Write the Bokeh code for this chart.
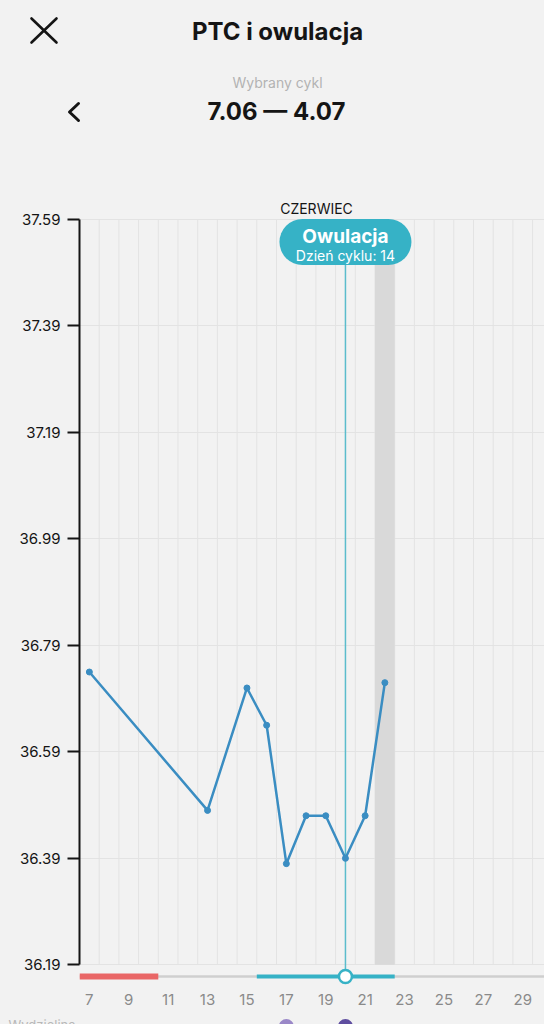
from bokeh.plotting import figure
from bokeh.layouts import column
from bokeh.models import Range1d, FixedTicker, Label, NumeralTickFormatter, GlobalInlineStyleSheet
from bokeh.embed import file_html
from bokeh.resources import INLINE

# ---------------- data ----------------
CYCLE_START = 7
DAYS = [7, 13, 15, 16, 17, 18, 19, 20, 21, 22]
TEMPS = [36.74, 36.48, 36.71, 36.64, 36.38, 36.47, 36.47, 36.39, 36.47, 36.72]
Y_TICKS = [36.19, 36.39, 36.59, 36.79, 36.99, 37.19, 37.39, 37.59]
X_TICKS = [7, 9, 11, 13, 15, 17, 19, 21, 23, 25, 27, 29]
PERIOD_DAYS = [7, 8, 9, 10]
FERTILE_DAYS = [16, 17, 18, 19, 20, 21, 22]
OVULATION_DAY = 20
TODAY = 22
LAST_DAY = 29
MUCUS_DAYS = [17, 20]
MUCUS_COLORS = ["#9a88c8", "#5f4ea0"]
MONTH = "CZERWIEC"
TITLE = "PTC i owulacja"
SUBTITLE = "Wybrany cykl"
RANGE_LABEL = "7.06 — 4.07"
OV_TITLE = "Owulacja"
OV_SUB = "Dzień cyklu: "
FOOTER_LABEL = "Wydzielina"

# ---------------- layout (page px) ----------------
W = 544
HEADER_H = 198
FOOTER_H = 16
CHART_H = 1024 - HEADER_H - FOOTER_H
FRAME_L = 79
FRAME_BOTTOM_PAGE = 985
CHART_BORDER_B = HEADER_H + CHART_H - FRAME_BOTTOM_PAGE
FRAME_W = W - FRAME_L
FRAME_H = CHART_H - CHART_BORDER_B
PX_PER_DAY = 19.7
PX_PER_DEG = 745.3 / 1.4
Y_TOP = max(Y_TICKS)
Y_AXIS_MIN = min(Y_TICKS)
Y_TOP_PAGE = 219
X_START = CYCLE_START - 0.5
X_END = X_START + FRAME_W / PX_PER_DAY
Y_END = Y_TOP + (Y_TOP_PAGE - HEADER_H) / PX_PER_DEG
Y_START = Y_END - FRAME_H / PX_PER_DEG
TRACK_Y = Y_START + 9 / PX_PER_DEG

FONT = "Inter"
BG = "#f2f2f2"
TEAL = "#36b2c6"
LINE_BLUE = "#3a8dc2"
GRID = "#e3e3e3"
DARK = "#151515"


def chart_y(py):
    """page y -> frame-relative screen y of the chart figure"""
    return FRAME_BOTTOM_PAGE - py


def lbl(fig, x, y, text, size, color=DARK, bold=False, font=FONT, align="center",
        baseline="middle", x_units="screen"):
    fig.add_layout(Label(x=x, y=y, x_units=x_units, y_units="screen", text=text,
                         text_align=align, text_baseline=baseline, text_font=font,
                         text_font_size=size, text_color=color,
                         text_font_style="bold" if bold else "normal"))


# ---------------- header ----------------
head = figure(width=W, height=HEADER_H, output_backend="svg", toolbar_location=None,
              x_range=Range1d(0, W), y_range=Range1d(HEADER_H, 0),
              min_border=0, background_fill_color=BG, border_fill_color=BG,
              outline_line_color=None, frame_align=False)
head.axis.visible = False
head.grid.visible = False

# close icon (X) and back chevron, drawn as strokes
head.segment(x0=[31, 56], y0=[18, 18], x1=[56, 31], y1=[42, 42],
             line_color=DARK, line_width=2.6, line_cap="round")
head.line(x=[78, 69, 78], y=[103, 111.5, 120], line_color=DARK, line_width=3,
          line_cap="round", line_join="round")

lbl(head, 277, HEADER_H - 31, TITLE, "24px", bold=True)
lbl(head, 277, HEADER_H - 82, SUBTITLE, "14px", color="#b3b3b3")
lbl(head, 276, HEADER_H - 111, RANGE_LABEL, "24px", bold=True)

# ---------------- chart ----------------
p = figure(width=W, height=CHART_H, output_backend="svg", toolbar_location=None,
           x_range=Range1d(X_START, X_END), y_range=Range1d(Y_START, Y_END),
           min_border_left=FRAME_L, min_border_right=0,
           min_border_top=0, min_border_bottom=CHART_BORDER_B,
           background_fill_color=BG, border_fill_color=BG,
           outline_line_color=None, frame_align=False)

p.yaxis.ticker = FixedTicker(ticks=Y_TICKS)
p.yaxis.formatter = NumeralTickFormatter(format="0.00")
p.yaxis.bounds = (Y_AXIS_MIN, Y_TOP)
p.yaxis.axis_line_width = 2
p.yaxis.axis_line_color = DARK
p.yaxis.major_tick_out = 12
p.yaxis.major_tick_in = 0
p.yaxis.major_tick_line_width = 2
p.yaxis.major_tick_line_color = DARK
p.yaxis.minor_tick_line_color = None
p.yaxis.major_label_standoff = 7
p.yaxis.major_label_text_font = FONT
p.yaxis.major_label_text_font_size = "15px"
p.yaxis.major_label_text_color = DARK

p.xaxis.ticker = FixedTicker(ticks=X_TICKS)
p.xaxis.axis_line_color = None
p.xaxis.major_tick_line_color = None
p.xaxis.minor_tick_line_color = None
p.xaxis.major_tick_out = 0
p.xaxis.major_tick_in = 0
p.xaxis.major_label_standoff = 8
p.xaxis.major_label_text_font = FONT
p.xaxis.major_label_text_font_size = "15px"
p.xaxis.major_label_text_color = "#8a8a8a"

p.xgrid.visible = False
p.ygrid.ticker = FixedTicker(ticks=Y_TICKS)
p.ygrid.grid_line_color = GRID
p.ygrid.grid_line_width = 1

# vertical day-boundary grid lines
vx = [d + 0.5 for d in range(CYCLE_START, LAST_DAY + 1)]
p.segment(x0=vx, x1=vx, y0=[Y_AXIS_MIN] * len(vx), y1=[Y_TOP] * len(vx),
          line_color=GRID, line_width=1)

# today band
p.quad(left=[TODAY - 0.5], right=[TODAY + 0.5], bottom=[Y_AXIS_MIN], top=[Y_TOP],
       fill_color="#d9d9d9", line_color=None)

# phase track
p.segment(x0=[X_START], x1=[X_END], y0=[TRACK_Y], y1=[TRACK_Y],
          line_color="#cfcfcf", line_width=2.5)
p.segment(x0=[min(PERIOD_DAYS) - 0.5], x1=[max(PERIOD_DAYS) + 0.5], y0=[TRACK_Y], y1=[TRACK_Y],
          line_color="#e96666", line_width=6)
p.segment(x0=[min(FERTILE_DAYS) - 0.5], x1=[max(FERTILE_DAYS) + 0.5], y0=[TRACK_Y], y1=[TRACK_Y],
          line_color=TEAL, line_width=4)

# ovulation line + marker
p.segment(x0=[OVULATION_DAY], x1=[OVULATION_DAY], y0=[TRACK_Y], y1=[Y_TOP],
          line_color="#5bbccc", line_width=1.5)
p.scatter(x=[OVULATION_DAY], y=[TRACK_Y], size=13, fill_color="#ffffff",
          line_color=TEAL, line_width=2.5)

# temperature series
p.line(DAYS, TEMPS, line_color=LINE_BLUE, line_width=2.5, line_join="round")
p.scatter(DAYS, TEMPS, size=6, fill_color=LINE_BLUE, line_color=LINE_BLUE)

# ovulation bubble
bubble_y = Y_TOP - (241.5 - Y_TOP_PAGE) / PX_PER_DEG
p.rect(x=[OVULATION_DAY], y=[bubble_y], width=132, height=46,
       width_units="screen", height_units="screen", border_radius=23,
       fill_color=TEAL, line_color=None)
lbl(p, OVULATION_DAY, chart_y(236), OV_TITLE, "19px", color="#ffffff", bold=True, x_units="data")
lbl(p, OVULATION_DAY, chart_y(255), OV_SUB + str(OVULATION_DAY - CYCLE_START + 1), "14px",
    color="#ffffff", x_units="data")

# month label
lbl(p, 316 - FRAME_L, chart_y(207.5), MONTH, "14px")

# ---------------- footer ----------------
FX_START = X_START - FRAME_L / PX_PER_DAY
foot = figure(width=W, height=FOOTER_H, output_backend="svg", toolbar_location=None,
              x_range=Range1d(FX_START, X_END), y_range=Range1d(0, FOOTER_H),
              min_border=0, background_fill_color=BG, border_fill_color=BG,
              outline_line_color=None, frame_align=False)
foot.axis.visible = False
foot.grid.visible = False
foot.scatter(x=MUCUS_DAYS, y=[-2] * len(MUCUS_DAYS), size=15, fill_color=MUCUS_COLORS,
             line_color=None)
lbl(foot, 8, FOOTER_H - 8, FOOTER_LABEL, "13px", color="#b8b8b8", align="left", baseline="top")

page_css = GlobalInlineStyleSheet(css="html, body { background: #f2f2f2; }")
layout = column(head, p, foot, spacing=0, styles={"background-color": BG},
                stylesheets=[page_css])
open("out.html", "w").write(file_html(layout, INLINE))
